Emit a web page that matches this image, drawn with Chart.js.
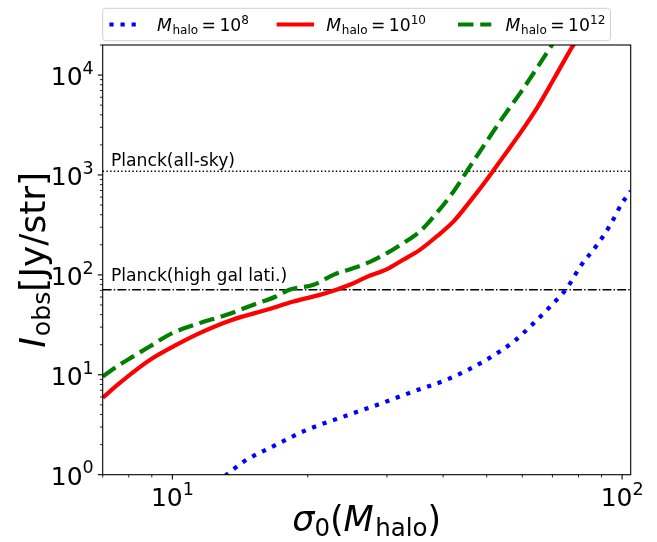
<!DOCTYPE html>
<html>
<head>
<meta charset="utf-8">
<script src="https://cdn.jsdelivr.net/npm/chart.js@4/dist/chart.umd.min.js"></script>
<style>
html,body{margin:0;padding:0;background:#ffffff;}
canvas{display:block;}
</style>
</head>
<body>
<canvas id="c" width="657" height="542"></canvas>
<script>
// ---------------- data ----------------
const xMin = 7, xMax = 104.5;
const yMin = 1, yMax = 2e4;

const seriesExps = ['8', '10', '12'];          // legend: M_halo = 10^exp
const seriesColors = ['#0000ff', '#ff0000', '#008000'];

const blueX = [13.1, 14.4, 16.7, 19.9, 24.0, 28.5, 34.3, 41.5, 49.2, 57.4, 63.6, 69.2, 75.4, 80.7, 88.0, 94.2, 100, 104.5];
const blueY = [0.97, 1.35, 1.91, 2.81, 3.81, 4.99, 6.79, 9.25, 13.6, 21.5, 32.9, 48.2, 73.8, 121, 200, 318, 524, 690];

const redX = [7.0, 7.63, 8.31, 9.05, 10.2, 11.5, 13.6, 16.2, 18.6, 22.0, 24.8, 27.0, 30.0, 32.6, 35.5, 38.7, 42.2, 45.9, 50.0, 54.5, 59.4, 64.7, 70.4, 78.0, 81.0];
const redY = [5.9, 8.24, 11.2, 14.7, 19.9, 26.1, 35.5, 44.7, 54.1, 65.7, 79.6, 95, 114, 141.7, 178, 242.6, 343, 544, 897, 1536, 2636, 4690, 9020, 20200, 26000];

const greenX = [7.0, 7.63, 8.17, 8.9, 10.0, 11.5, 13.2, 15.1, 17.0, 18.2, 20.6, 22.8, 25.3, 27.5, 30.0, 32.6, 35.5, 38.7, 42.2, 45.9, 50.0, 54.5, 59.4, 64.7, 69.9, 72.0];
const greenY = [9.6, 12.6, 15.2, 19.2, 26.1, 32.9, 39.8, 50.0, 60.8, 71, 79.6, 100, 117, 135, 165, 208, 272, 416, 685, 1219, 2172, 3865, 6637, 11800, 20200, 25000];

const planckAllSky = 1090;
const planckHighGal = 71;
const refLabels = ['Planck(all-sky)', 'Planck(high gal lati.)'];
const refLabelX = 7.3;
const refLabelY = [1220, 86];

const xTickExps = [1, 2];
const yTickExps = [0, 1, 2, 3, 4];

// ---------------- helpers ----------------
const FAM = '"DejaVu Sans", sans-serif';
function fnt(size, it) { return (it ? 'italic ' : '') + size.toFixed(2) + 'px ' + FAM; }
function richWidth(ctx, parts, F) {
  let w = 0;
  for (const p of parts) { ctx.font = fnt(F * (p.s || 1), p.it); w += ctx.measureText(p.t).width + (p.gap || 0) * F; }
  return w;
}
function richDraw(ctx, parts, F, x, y) {
  for (const p of parts) {
    ctx.font = fnt(F * (p.s || 1), p.it);
    ctx.fillText(p.t, x, y - (p.dy || 0) * F);
    x += ctx.measureText(p.t).width + (p.gap || 0) * F;
  }
  return x;
}
const SUP = 0.45, SUB = -0.15;
function powParts(e) { return [{t: '10'}, {t: String(e), s: 0.7, dy: SUP}]; }
function mhaloParts(e) {
  return [{t: 'M', it: true, gap: 0.04}, {t: 'halo', s: 0.7, dy: SUB, gap: 0.2}, {t: '=', gap: 0.2}, {t: '10'}, {t: e, s: 0.7, dy: SUP}];
}
const lineStyles = [
  {w: 4.2, dash: [4.2, 6.9]},
  {w: 4.2, dash: []},
  {w: 4.2, dash: [15.5, 6.7]}
];
const pts = (xs, ys) => xs.map((x, i) => ({x: x, y: ys[i]}));

// ---------------- decoration plugin ----------------
const deco = {
  id: 'deco',
  afterDraw(chart) {
    const ctx = chart.ctx, a = chart.chartArea, xs = chart.scales.x, ys = chart.scales.y;
    ctx.save();
    ctx.setLineDash([]);
    ctx.strokeStyle = '#000'; ctx.fillStyle = '#000';
    // frame
    ctx.lineWidth = 1.1;
    ctx.strokeRect(a.left, a.top, a.right - a.left, a.bottom - a.top);
    // tick marks
    function ticksFor(lo, hi) {
      const out = [];
      for (let e = Math.floor(Math.log10(lo)); e <= Math.ceil(Math.log10(hi)); e++) {
        for (let m = 1; m <= 9; m++) {
          const v = m * Math.pow(10, e);
          if (v >= lo * 0.9999 && v <= hi * 1.0001) out.push({v: v, major: m === 1});
        }
      }
      return out;
    }
    for (const t of ticksFor(xMin, xMax)) {
      const px = xs.getPixelForValue(t.v);
      ctx.lineWidth = t.major ? 1.1 : 0.85;
      ctx.beginPath(); ctx.moveTo(px, a.bottom); ctx.lineTo(px, a.bottom + (t.major ? 4.9 : 2.8)); ctx.stroke();
    }
    for (const t of ticksFor(yMin, yMax)) {
      const py = ys.getPixelForValue(t.v);
      ctx.lineWidth = t.major ? 1.1 : 0.85;
      ctx.beginPath(); ctx.moveTo(a.left, py); ctx.lineTo(a.left - (t.major ? 4.9 : 2.8), py); ctx.stroke();
    }
    // tick labels
    const TF = 25;
    ctx.textAlign = 'left'; ctx.textBaseline = 'alphabetic';
    for (const e of xTickExps) {
      const px = xs.getPixelForValue(Math.pow(10, e));
      const parts = powParts(e);
      const w = richWidth(ctx, parts, TF);
      richDraw(ctx, parts, TF, px - w / 2, a.bottom + 31.5);
    }
    for (const e of yTickExps) {
      const py = ys.getPixelForValue(Math.pow(10, e));
      const parts = powParts(e);
      const w = richWidth(ctx, parts, TF);
      richDraw(ctx, parts, TF, a.left - 9 - w, py + 10);
    }
    // reference line labels
    ctx.font = fnt(17.2, false);
    ctx.fillText(refLabels[0], xs.getPixelForValue(refLabelX), ys.getPixelForValue(refLabelY[0]));
    ctx.fillText(refLabels[1], xs.getPixelForValue(refLabelX), ys.getPixelForValue(refLabelY[1]));
    // legend
    const LF = 17.2, lx0 = a.left, ly0 = 8.3, lh = 32.4, lx1 = 610.5;
    const handleX = [109.4, 278.7, 458.0], hl = 33.3, textX = [156.9, 326.3, 505.6];
    const r = 3;
    ctx.beginPath();
    ctx.moveTo(lx0 + r, ly0); ctx.lineTo(lx1 - r, ly0);
    ctx.arcTo(lx1, ly0, lx1, ly0 + r, r);
    ctx.lineTo(lx1, ly0 + lh - r);
    ctx.arcTo(lx1, ly0 + lh, lx1 - r, ly0 + lh, r);
    ctx.lineTo(lx0 + r, ly0 + lh);
    ctx.arcTo(lx0, ly0 + lh, lx0, ly0 + lh - r, r);
    ctx.lineTo(lx0, ly0 + r);
    ctx.arcTo(lx0, ly0, lx0 + r, ly0, r);
    ctx.closePath();
    ctx.fillStyle = 'rgba(255,255,255,0.8)'; ctx.fill();
    ctx.strokeStyle = '#d0d0d0'; ctx.lineWidth = 1; ctx.stroke();
    const cy = ly0 + lh / 2;
    seriesExps.forEach((e, i) => {
      ctx.strokeStyle = seriesColors[i]; ctx.lineWidth = lineStyles[i].w;
      ctx.setLineDash(lineStyles[i].dash); ctx.lineCap = i === 1 ? 'square' : 'butt';
      ctx.beginPath(); ctx.moveTo(handleX[i], cy); ctx.lineTo(handleX[i] + hl, cy); ctx.stroke();
      ctx.setLineDash([]); ctx.lineCap = 'butt';
      ctx.fillStyle = '#000';
      richDraw(ctx, mhaloParts(e), LF, textX[i], cy + 6.8);
    });
    // axis titles
    ctx.fillStyle = '#000';
    const AF = 35;
    const xt = [{t: 'σ', it: true}, {t: '0', s: 0.7, dy: SUB}, {t: '('}, {t: 'M', it: true, gap: 0.04}, {t: 'halo', s: 0.7, dy: SUB}, {t: ')'}];
    const xw = richWidth(ctx, xt, AF);
    richDraw(ctx, xt, AF, (a.left + a.right) / 2 - xw / 2, 531);
    const YF = 36;
    const yt = [{t: 'I', it: true, gap: 0.03}, {t: 'obs', s: 0.7, dy: SUB}, {t: '[Jy/str]'}];
    const yw = richWidth(ctx, yt, YF);
    ctx.save();
    ctx.translate(45, (a.top + a.bottom) / 2);
    ctx.rotate(-Math.PI / 2);
    richDraw(ctx, yt, YF, -yw / 2, 0);
    ctx.restore();
    ctx.restore();
  }
};

// ---------------- chart ----------------
const hidden = {
  ticks: {display: false},
  grid: {display: false, drawTicks: false, tickLength: 0},
  border: {display: false},
  title: {display: false}
};
const curve = {pointRadius: 0, cubicInterpolationMode: 'monotone', borderJoinStyle: 'round'};
new Chart(document.getElementById('c'), {
  type: 'line',
  data: {
    datasets: [
      {label: refLabels[0], data: pts([xMin, xMax], [planckAllSky, planckAllSky]), borderColor: '#000', borderWidth: 1.4, borderDash: [1.4, 2.3], pointRadius: 0, order: 5},
      {label: refLabels[1], data: pts([xMin, xMax], [planckHighGal, planckHighGal]), borderColor: '#000', borderWidth: 1.4, borderDash: [8.9, 2.2, 1.4, 2.2], pointRadius: 0, order: 4},
      Object.assign({label: 'M_halo=10^' + seriesExps[0], data: pts(blueX, blueY), borderColor: seriesColors[0], borderWidth: lineStyles[0].w, borderDash: lineStyles[0].dash, order: 3}, curve),
      Object.assign({label: 'M_halo=10^' + seriesExps[1], data: pts(redX, redY), borderColor: seriesColors[1], borderWidth: lineStyles[1].w, borderDash: lineStyles[1].dash, order: 2}, curve),
      Object.assign({label: 'M_halo=10^' + seriesExps[2], data: pts(greenX, greenY), borderColor: seriesColors[2], borderWidth: lineStyles[2].w, borderDash: lineStyles[2].dash, order: 1}, curve)
    ]
  },
  options: {
    responsive: false,
    animation: false,
    devicePixelRatio: 1,
    layout: {padding: {left: 102.7, top: 45, right: 26.3, bottom: 67.3}},
    elements: {line: {fill: false}},
    plugins: {legend: {display: false}, tooltip: {enabled: false}, title: {display: false}},
    scales: {
      x: Object.assign({type: 'logarithmic', min: xMin, max: xMax}, JSON.parse(JSON.stringify(hidden))),
      y: Object.assign({type: 'logarithmic', min: yMin, max: yMax}, JSON.parse(JSON.stringify(hidden)))
    }
  },
  plugins: [deco]
});
</script>
</body>
</html>
